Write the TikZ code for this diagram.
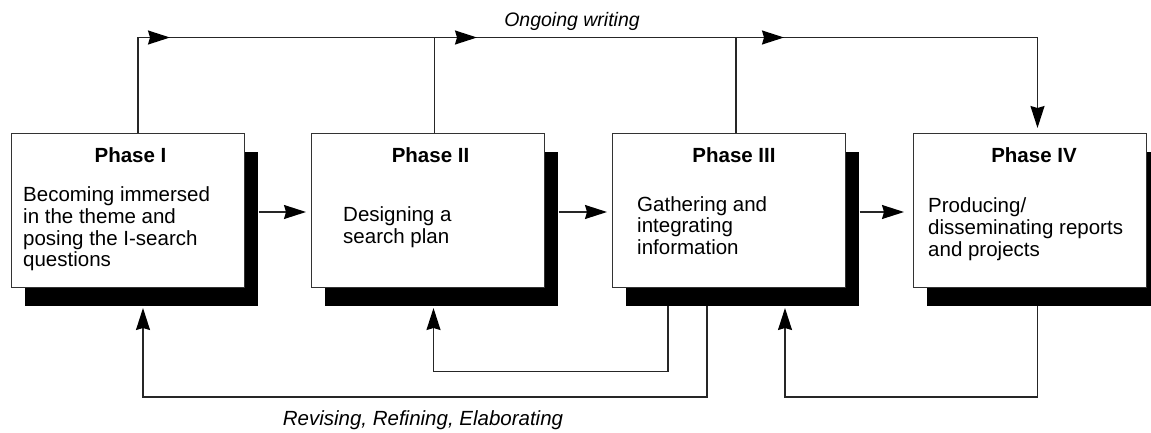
\documentclass[tikz,border=0pt]{standalone}
\usepackage{fontspec}
\setmainfont{Liberation Sans}
\usetikzlibrary{arrows.meta,shadows}
\begin{document}
\begin{tikzpicture}[x=1pt,y=-1pt,
  phasebox/.style={draw=black!80, line width=1pt, fill=white,
    minimum width=233pt, minimum height=154pt, inner sep=0pt, anchor=north west,
    drop shadow={shadow xshift=13.5pt, shadow yshift=-18pt, fill=black, opacity=1}},
  title/.style={font=\fontsize{20.5}{22}\selectfont\bfseries, inner sep=0pt, anchor=base},
  body/.style={font=\fontsize{20.5}{21.7}\selectfont, align=left, inner sep=0pt, anchor=north west},
  lbl/.style={font=\fontsize{19.5}{22}\selectfont\itshape, inner sep=0pt, anchor=base},
  conn/.style={draw=black!85, line width=1.3pt},
  tip/.style={-{Stealth[length=22pt,width=14pt,inset=2pt,black]}}
]
\clip (0,0) rectangle (1151,432);
\useasboundingbox (0,0) rectangle (1151,432);

% boxes
\node[phasebox] (p1) at (11,133) {};
\node[phasebox] (p2) at (311,133) {};
\node[phasebox] (p3) at (612,133) {};
\node[phasebox] (p4) at (913,133) {};

% titles
\node[title] (h1) at (130.5,162) {Phase I};
\node[title] (h2) at (430.5,162) {Phase II};
\node[title] (h3) at (734,162) {Phase III};
\node[title] (h4) at (1034,162) {Phase IV};

% bodies (first line baseline = y + 16)
\node[body] (d1) at (23,185.5) {\rule{0pt}{16pt}Becoming immersed\\in the theme and\\posing the I-search\\questions};
\node[body] (d2) at (343,205.7) {\rule{0pt}{16pt}Designing a\\search plan};
\node[body] (d3) at (637,195) {\rule{0pt}{16pt}Gathering and\\integrating\\information};
\node[body] (d4) at (928,196.5) {\rule{0pt}{16pt}Producing/\\disseminating reports\\and projects};

% top "ongoing writing" line
\coordinate (t1) at (138,37.5);
\coordinate (t2) at (434.5,37.5);
\coordinate (t3) at (736,37.5);
\coordinate (t4) at (1037.5,37.5);
\coordinate (a1) at (170,37.5);
\coordinate (a2) at (477,37.5);
\coordinate (a3) at (784,37.5);
\draw[conn,tip,shorten >=5pt] (t1 |- p1.north) -- (t1) -- (t4) -- (t4 |- p4.north);
\draw[conn] (t2 |- p2.north) -- (t2);
\draw[conn] (t3 |- p3.north) -- (t3);
\draw[conn,tip] (t1) -- (a1);
\draw[conn,tip] (t2) -- (a2);
\draw[conn,tip] (t3) -- (a3);
\node[lbl] (ow) at (572,26) {Ongoing writing};

% horizontal arrows between boxes
\coordinate (hr) at (0,212);
\draw[conn,tip,shorten >=5pt] ([xshift=13.5pt]p1.east |- hr) -- (p2.west |- hr);
\draw[conn,tip,shorten >=5pt] ([xshift=13.5pt]p2.east |- hr) -- (p3.west |- hr);
\draw[conn,tip,shorten >=9pt] ([xshift=13.5pt]p3.east |- hr) -- (p4.west |- hr);

% feedback loops
\coordinate (s1) at ([yshift=-18pt]p1.south);
\coordinate (s2) at ([yshift=-18pt]p2.south);
\coordinate (s3) at ([yshift=-18pt]p3.south);
\coordinate (s4) at ([yshift=-18pt]p4.south);
\coordinate (f1) at (143,397);
\coordinate (f2) at (707,397);
\coordinate (g1) at (433.5,371.5);
\coordinate (g2) at (668,371.5);
\coordinate (k1) at (785,397);
\coordinate (k2) at (1037.5,397);
\draw[conn,tip,shorten >=2pt] (f2 |- s3) -- (f2) -- (f1) -- (f1 |- s1);
\draw[conn,tip,shorten >=2pt] (g2 |- s3) -- (g2) -- (g1) -- (g1 |- s2);
\draw[conn,tip,shorten >=2pt] (k2 |- s4) -- (k2) -- (k1) -- (k1 |- s3);
\node[lbl, font=\fontsize{20.5}{22}\selectfont\itshape] (rv) at (423,425) {Revising, Refining, Elaborating};
\end{tikzpicture}
\end{document}
